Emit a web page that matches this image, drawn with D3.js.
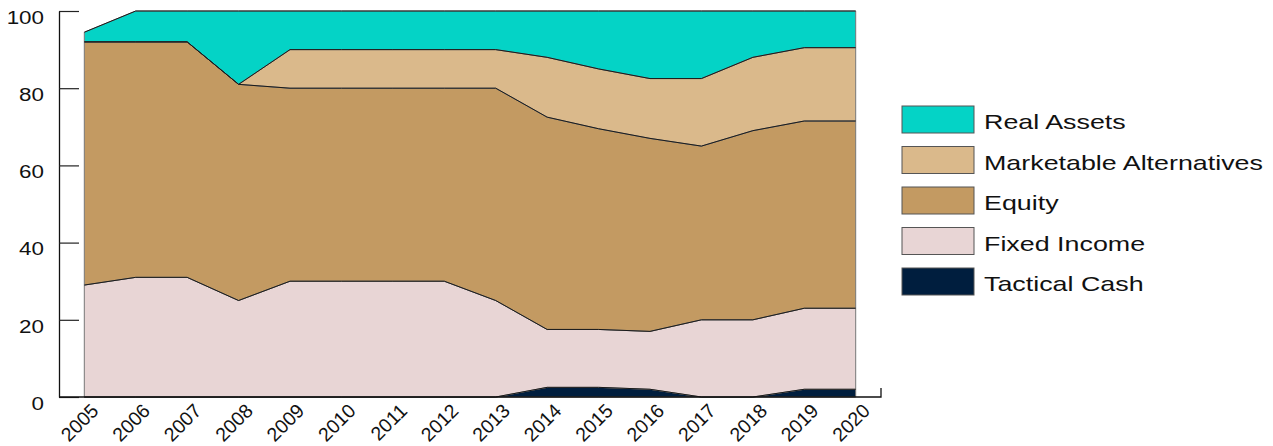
<!DOCTYPE html>
<html>
<head>
<meta charset="utf-8">
<script src="https://cdn.jsdelivr.net/npm/d3@7"></script>
<style>
  html, body { margin: 0; padding: 0; background: #fff; }
  svg { display: block; font-family: "Liberation Sans", Arial, sans-serif; }
</style>
</head>
<body>
<svg id="chart" width="1273" height="446"></svg>
<script>
// Allocation by asset class, percent of portfolio, 2005–2020
const years = [2005, 2006, 2007, 2008, 2009, 2010, 2011, 2012, 2013, 2014, 2015, 2016, 2017, 2018, 2019, 2020];
const tacticalCash = [0, 0, 0, 0, 0, 0, 0, 0, 0, 2.5, 2.5, 2, 0, 0, 2, 2];
const fixedIncome  = [29, 31, 31, 25, 30, 30, 30, 30, 25, 15, 15, 15, 20, 20, 21, 21];
const equity       = [63, 61, 61, 56, 50, 50, 50, 50, 55, 55, 52, 50, 45, 49, 48.5, 48.5];
const marketableAlternatives = [0, 0, 0, 0, 10, 10, 10, 10, 10, 15.5, 15.5, 15.5, 17.5, 19, 19, 19];
const realAssets   = [2.5, 8, 8, 19, 10, 10, 10, 10, 10, 12, 15, 17.5, 17.5, 12, 9.5, 9.5];
const yTicks = [0, 20, 40, 60, 80, 100];

const seriesKeys = ["Tactical Cash", "Fixed Income", "Equity", "Marketable Alternatives", "Real Assets"];
const seriesValues = [tacticalCash, fixedIncome, equity, marketableAlternatives, realAssets];
const colors = {
  "Real Assets": "#04D3C6",
  "Marketable Alternatives": "#DAB98B",
  "Equity": "#C39A62",
  "Fixed Income": "#E8D5D5",
  "Tactical Cash": "#001E3E"
};
const legendOrder = ["Real Assets", "Marketable Alternatives", "Equity", "Fixed Income", "Tactical Cash"];

const rows = years.map((yr, i) => {
  const r = { year: yr };
  seriesKeys.forEach((k, j) => { r[k] = seriesValues[j][i]; });
  return r;
});

const svg = d3.select("#chart");
const x = d3.scaleLinear().domain([2005, 2020]).range([84.3, 855.7]);
const y = d3.scaleLinear().domain([0, 100]).range([397, 11]);

const stacked = d3.stack().keys(seriesKeys)(rows);

const area = d3.area()
  .x(d => x(d.data.year))
  .y0(d => y(d[0]))
  .y1(d => y(d[1]));

const topLine = d3.line()
  .x(d => x(d.data.year))
  .y(d => y(d[1]));

svg.append("g").selectAll("path")
  .data(stacked)
  .join("path")
  .attr("d", area)
  .attr("fill", d => colors[d.key])
  .attr("stroke", "#777")
  .attr("stroke-width", 1);

svg.append("g").selectAll("path")
  .data(stacked)
  .join("path")
  .attr("d", topLine)
  .attr("fill", "none")
  .attr("stroke", "#1a1a1a")
  .attr("stroke-width", 1);

// y axis with inward ticks
const yAxis = svg.append("g")
  .attr("transform", "translate(59,0)")
  .call(d3.axisLeft(y).tickValues(yTicks).tickSize(-20).tickSizeOuter(0).tickFormat(d3.format("d")));
yAxis.select(".domain").attr("stroke", "#111").attr("stroke-width", 1.3);
yAxis.selectAll(".tick line").attr("stroke", "#222").attr("stroke-width", 1.2);
yAxis.selectAll(".tick text")
  .attr("x", 0)
  .attr("dy", null)
  .attr("y", 0)
  .attr("transform", "translate(-15,12.3) scale(1.28,1)")
  .attr("font-size", 17.5)
  .attr("font-family", "Liberation Sans, Arial, sans-serif")
  .attr("fill", "#111")
  .attr("text-anchor", "end");

// x axis line with right end tick
svg.append("path")
  .attr("d", `M59,397H881V388`)
  .attr("fill", "none")
  .attr("stroke", "#111")
  .attr("stroke-width", 1.3);

// rotated year labels
const xAxis = svg.append("g")
  .attr("transform", "translate(0,397)")
  .call(d3.axisBottom(x).tickValues(years).tickSize(0).tickFormat(d3.format("d")));
xAxis.select(".domain").remove();
xAxis.selectAll(".tick text")
  .attr("y", 0)
  .attr("dy", null)
  .attr("x", 0)
  .attr("transform", "translate(15,15) rotate(-45)")
  .attr("text-anchor", "end")
  .attr("font-size", 19.5)
  .attr("font-family", "Liberation Sans, Arial, sans-serif")
  .attr("fill", "#111");

// legend
const legend = svg.append("g").attr("transform", "translate(902,106)");
const item = legend.selectAll("g")
  .data(legendOrder)
  .join("g")
  .attr("transform", (d, i) => `translate(0,${i * 40.5})`);
item.append("rect")
  .attr("width", 72)
  .attr("height", 27)
  .attr("fill", d => colors[d])
  .attr("stroke", "#555")
  .attr("stroke-width", 1);
item.append("text")
  .attr("transform", "translate(82,23) scale(1.31,1)")
  .attr("font-size", 20.5)
  .attr("fill", "#111")
  .text(d => d);
</script>
</body>
</html>
